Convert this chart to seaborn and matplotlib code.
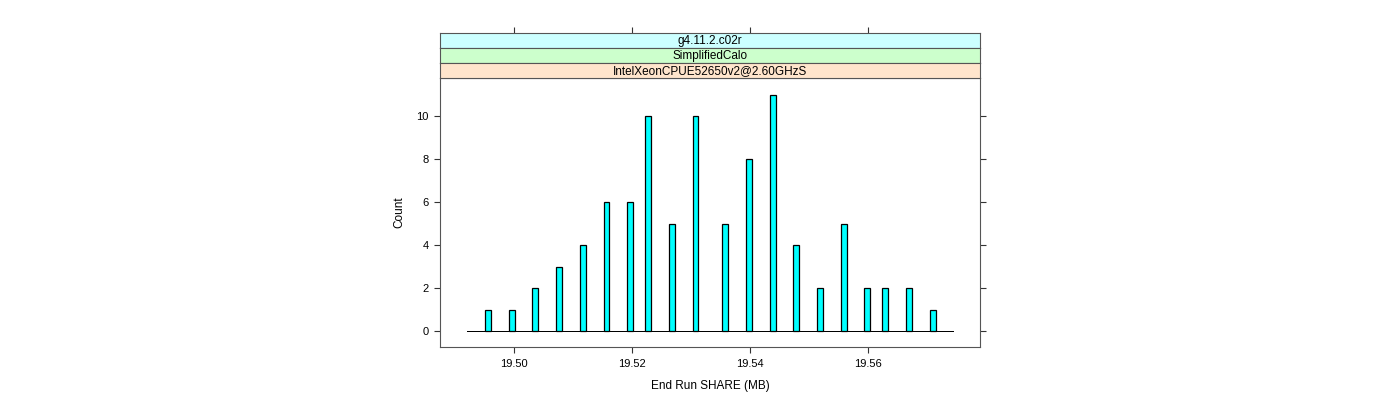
import matplotlib
matplotlib.use("Agg")
import numpy as np
import matplotlib.pyplot as plt
import seaborn as sns

# observed End Run SHARE values (MB) and how many runs had each
share_mb = [19.4957, 19.4997, 19.5037, 19.5077, 19.5117, 19.5157, 19.5197,
            19.5228, 19.5268, 19.5308, 19.5358, 19.5398, 19.5438, 19.5479,
            19.5518, 19.5558, 19.5598, 19.5628, 19.5668, 19.5709]
counts = [1, 1, 2, 3, 4, 6, 6, 10, 5, 10, 5, 8, 11, 4, 2, 5, 2, 2, 2, 1]

strip_labels = ["g4.11.2.c02r", "SimplifiedCalo", "IntelXeonCPUE52650v2@2.60GHzS"]
strip_colors = ["#CCFFFF", "#CCFFCC", "#FFE5CC"]
x_ticks = [19.50, 19.52, 19.54, 19.56]
y_ticks = [0, 2, 4, 6, 8, 10]

sns.set_theme(style="white")
plt.rcParams['font.family'] = ['Liberation Sans', 'DejaVu Sans']
plt.rcParams['font.size'] = 8
plt.rcParams['text.color'] = "black"
plt.rcParams['axes.labelcolor'] = "black"
plt.rcParams['xtick.labelcolor'] = "black"
plt.rcParams['ytick.labelcolor'] = "black"

W, H = 1400, 400
fig = plt.figure(figsize=(14, 4), dpi=100)
fig.patch.set_facecolor("white")

# panel box in pixels
left, right, top, bottom = 440, 980, 78, 347
ax = fig.add_axes([left / W, 1 - bottom / H, (right - left) / W, (bottom - top) / H])

sns.histplot(x=share_mb, weights=counts, bins=82, binrange=(19.4921, 19.5745),
             color="#00FFFF", edgecolor="black", linewidth=0.9, alpha=1, ax=ax)
# empty bins collapse to a line; keep it solid like the lattice baseline
for p in ax.patches:
    if p.get_height() == 0:
        p.set_linewidth(0.72)
        p.set_antialiased(False)

ax.set_xlim(19.4875, 19.5790)
ax.set_ylim(-0.74, 11.77)
ax.set_xticks(x_ticks)
ax.set_xticklabels([f"{t:.2f}" for t in x_ticks])
ax.set_yticks(y_ticks)
ax.tick_params(axis="both", direction="out", length=4.3, width=0.8, color="#333333",
               labelsize=8, pad=4, bottom=True, left=True, right=True, top=False)
ax.tick_params(axis="y", labelright=False)
for s in ax.spines.values():
    s.set_color("#555555")
    s.set_linewidth(0.8)
ax.set_xlabel("End Run SHARE (MB)", fontsize=8.5, labelpad=8)
ax.set_ylabel("Count", fontsize=8.5, labelpad=8)
ax.grid(False)

# strips stacked above the panel, outermost on top
strip_h = 15
for i, (lab, col) in enumerate(zip(strip_labels, strip_colors)):
    s_top = top - strip_h * (len(strip_labels) - i)
    sax = fig.add_axes([left / W, 1 - (s_top + strip_h) / H, (right - left) / W, strip_h / H],
                       sharex=ax)
    sax.set_facecolor(col)
    sax.set_yticks([])
    sax.text(0.5, 0.45, lab, transform=sax.transAxes, ha="center", va="center", fontsize=8.5)
    for s in sax.spines.values():
        s.set_color("#555555")
        s.set_linewidth(0.8)
    if i == 0:
        sax.tick_params(axis="x", direction="out", length=4.3, width=0.8, color="#333333",
                        top=True, bottom=False, labeltop=False, labelbottom=False)
    else:
        sax.tick_params(axis="x", top=False, bottom=False, labeltop=False, labelbottom=False)

fig.savefig("out.png", dpi=100)
